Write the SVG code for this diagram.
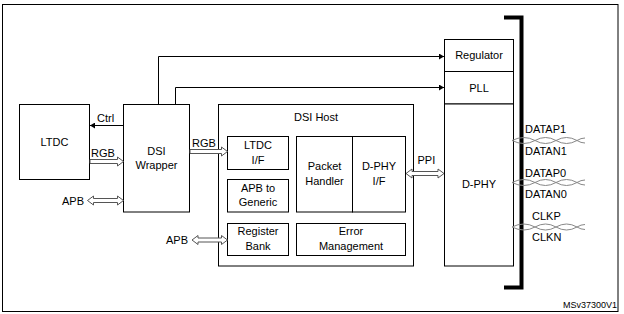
<svg xmlns="http://www.w3.org/2000/svg" width="624" height="314" viewBox="0 0 624 314">
<style>
.box{fill:#fff;stroke:#000;stroke-width:1}
.t{font-family:"Liberation Sans",Arial,sans-serif;font-size:11px;fill:#000}
.c{text-anchor:middle}
.ln{fill:none;stroke:#000;stroke-width:1}
.ha{fill:#fff;stroke:#555;stroke-width:1}
.tw{fill:none;stroke:#888;stroke-width:1}
</style>
<defs>
<marker id="ah" markerWidth="6" markerHeight="6" refX="5" refY="3" orient="auto" markerUnits="userSpaceOnUse">
<path d="M0,0 L5,3 L0,6 Z" fill="#000"/>
</marker>
</defs>
<rect x="2.5" y="4.5" width="615.5" height="307" fill="#fff" stroke="#000"/>

<g id="ltdc">
<rect class="box" x="19.5" y="104.5" width="70" height="75"/>
<text class="t c" x="54.5" y="145.5">LTDC</text>
</g>
<g id="dsi-wrapper">
<rect class="box" x="123.5" y="104.5" width="66" height="107.5"/>
<text class="t c" x="156.5" y="155">DSI</text>
<text class="t c" x="156.5" y="168.5">Wrapper</text>
</g>
<g id="dsi-host">
<rect class="box" x="218.5" y="104.5" width="195" height="161.5"/>
<text class="t c" x="316" y="120.5">DSI Host</text>
</g>
<g id="ltdc-if">
<rect class="box" x="227.5" y="136.5" width="61" height="33"/>
<text class="t c" x="258" y="148.5">LTDC</text>
<text class="t c" x="258" y="164">I/F</text>
</g>
<g id="apb-generic">
<rect class="box" x="227.5" y="179.5" width="61" height="32.5"/>
<text class="t c" x="258" y="191.5">APB to</text>
<text class="t c" x="258" y="206">Generic</text>
</g>
<g id="register-bank">
<rect class="box" x="227.5" y="223.5" width="61" height="32"/>
<text class="t c" x="258" y="235">Register</text>
<text class="t c" x="258" y="249.5">Bank</text>
</g>
<g id="packet-handler">
<rect class="box" x="296.5" y="136.5" width="56" height="75.5"/>
<text class="t c" x="324.5" y="170">Packet</text>
<text class="t c" x="324.5" y="184.5">Handler</text>
</g>
<g id="dphy-if">
<rect class="box" x="352.5" y="136.5" width="53" height="75.5"/>
<text class="t c" x="379" y="170">D-PHY</text>
<text class="t c" x="379" y="184.5">I/F</text>
</g>
<g id="error-management">
<rect class="box" x="296.5" y="223.5" width="109" height="32"/>
<text class="t c" x="351" y="235">Error</text>
<text class="t c" x="351" y="249.5">Management</text>
</g>
<g id="regulator">
<rect class="box" x="444.5" y="39.5" width="69" height="32"/>
<text class="t c" x="479" y="58.5">Regulator</text>
</g>
<g id="pll">
<rect class="box" x="444.5" y="71.5" width="69" height="32.5"/>
<text class="t c" x="479" y="91.5">PLL</text>
</g>
<g id="dphy">
<rect class="box" x="444.5" y="104" width="69" height="162"/>
<text class="t c" x="479" y="188">D-PHY</text>
</g>
<g id="bracket">
<path d="M504,17.5 H521.5 V287.5 H504" fill="none" stroke="#000" stroke-width="4"/>
</g>

<g id="connectors">
<path class="ln" d="M158.5,104.5 V56.5 H444" marker-end="url(#ah)"/>
<path class="ln" d="M175.5,104.5 V87.5 H444" marker-end="url(#ah)"/>
<path class="ln" d="M123.5,125.5 H90" marker-end="url(#ah)"/>
<path class="ha" d="M90,159.5 H117.5 V157 L123.5,161.5 L117.5,166 V163.5 H90 Z"/>
<path class="ha" d="M190,149.5 H221.5 V147 L227.5,151.5 L221.5,156 V153.5 H190 Z"/>
<path class="ha" d="M87.5,200.5 L93.5,196 V198.5 H117.5 V196 L123.5,200.5 L117.5,205 V202.5 H93.5 V205 Z"/>
<path class="ha" d="M192,240 L198,235.5 V238 H221.5 V235.5 L227.5,240 L221.5,244.5 V242 H198 V244.5 Z"/>
<path class="ha" d="M406,173.5 L412,169 V171.5 H438 V169 L444,173.5 L438,178 V175.5 H412 V178 Z"/>
<path class="tw" d="M512,140.5 Q524,134.5 535,140.5 Q545.5,146.5 556,140.5 Q566.5,134.5 577,140.5 Q581,143 585,143"/>
<path class="tw" d="M512,140.5 Q524,146.5 535,140.5 Q545.5,134.5 556,140.5 Q566.5,146.5 577,140.5 Q581,138 585,138"/>
<path class="tw" d="M512,182.5 Q524,176.5 535,182.5 Q545.5,188.5 556,182.5 Q566.5,176.5 577,182.5 Q581,185 585,185"/>
<path class="tw" d="M512,182.5 Q524,188.5 535,182.5 Q545.5,176.5 556,182.5 Q566.5,188.5 577,182.5 Q581,180 585,180"/>
<path class="tw" d="M512,227 Q524,221 535,227 Q545.5,233 556,227 Q566.5,221 577,227 Q581,229.5 585,229.5"/>
<path class="tw" d="M512,227 Q524,233 535,227 Q545.5,221 556,227 Q566.5,233 577,227 Q581,224.5 585,224.5"/>
</g>

<g id="labels">
<text class="t" x="97" y="122">Ctrl</text>
<text class="t" x="91" y="157">RGB</text>
<text class="t" x="192" y="147">RGB</text>
<text class="t" x="62" y="205">APB</text>
<text class="t" x="166" y="244">APB</text>
<text class="t" x="417.5" y="164">PPI</text>
<text class="t" x="525" y="132.5">DATAP1</text>
<text class="t" x="525" y="154.5">DATAN1</text>
<text class="t" x="525" y="177">DATAP0</text>
<text class="t" x="525" y="197.5">DATAN0</text>
<text class="t" x="532" y="220">CLKP</text>
<text class="t" x="532" y="241">CLKN</text>
<text class="t" x="617" y="307.5" style="font-size:9px;text-anchor:end">MSv37300V1</text>
</g>
</svg>
